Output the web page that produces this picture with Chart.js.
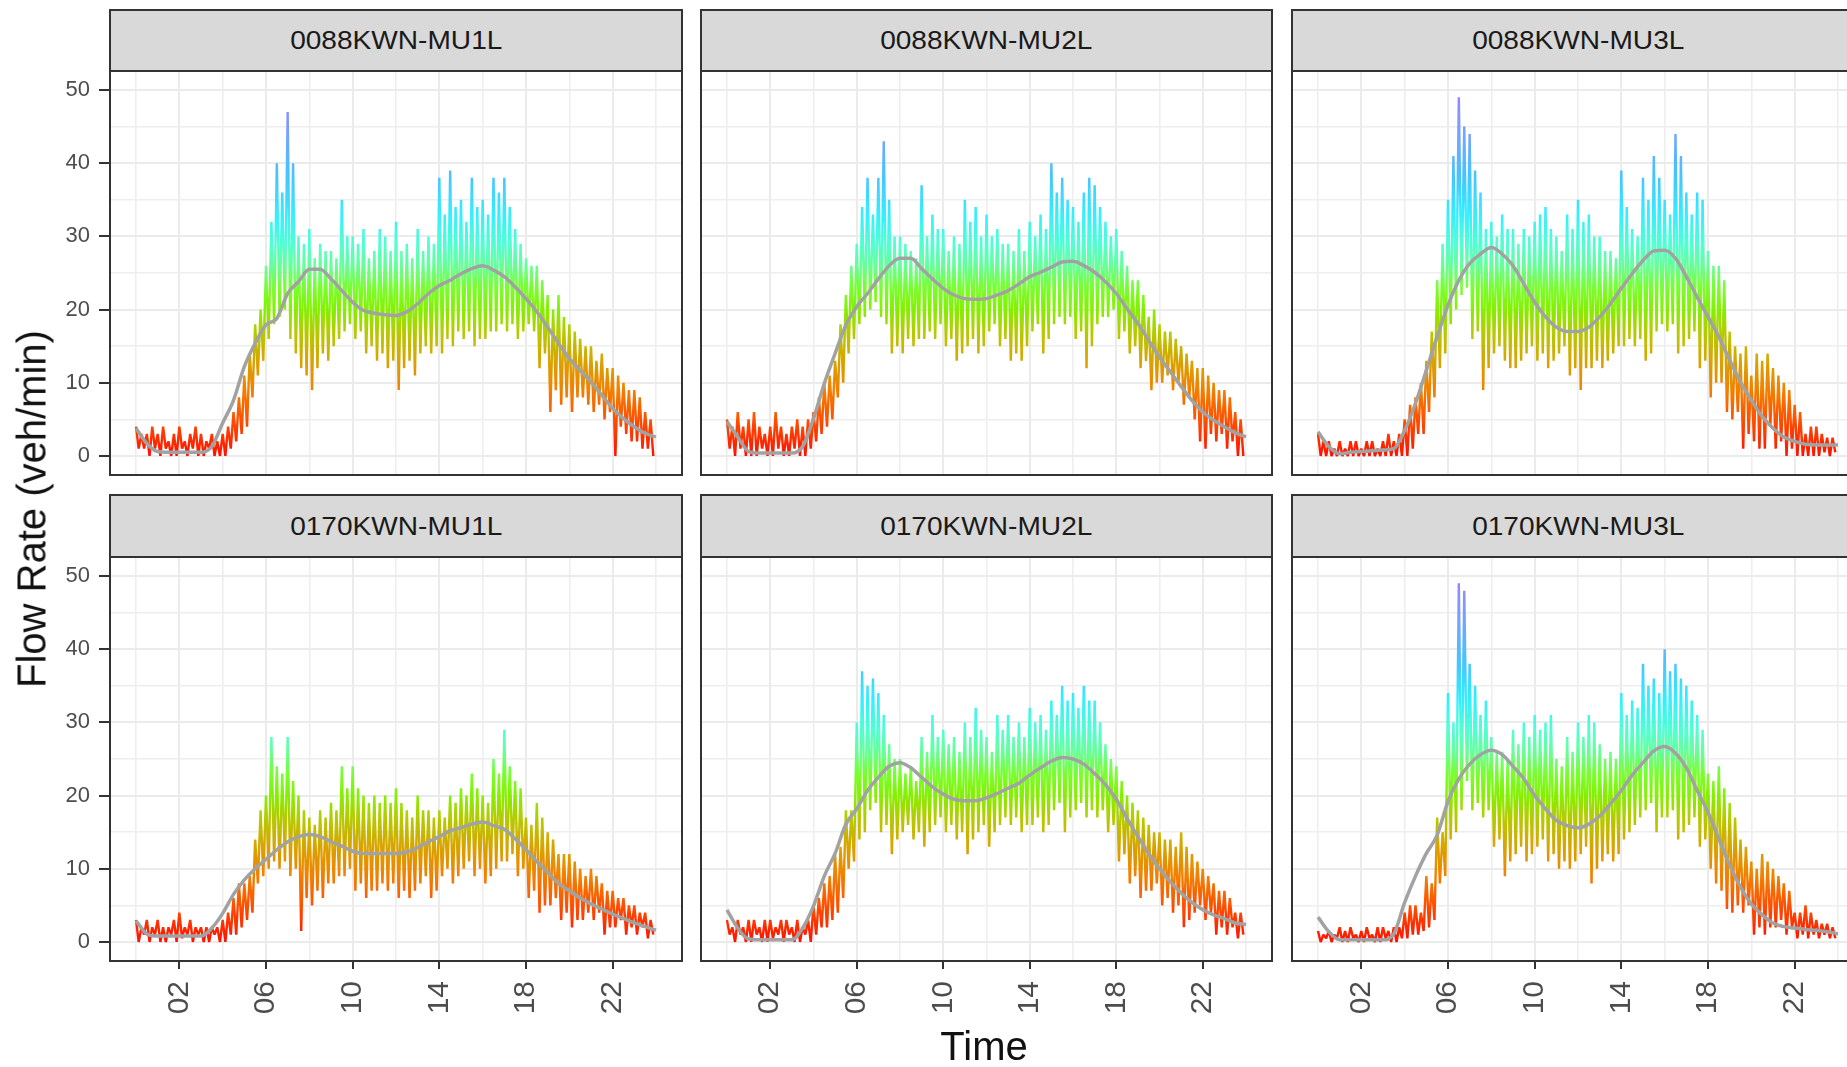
<!DOCTYPE html>
<html>
<head>
<meta charset="utf-8">
<script src="https://cdn.jsdelivr.net/npm/chart.js@4/dist/chart.umd.min.js"></script>
<style>
html,body{margin:0;padding:0;background:#ffffff;overflow:hidden;width:1847px;height:1067px;}
#wrap{position:relative;width:1900px;height:1067px;}
#wrap canvas{position:absolute;}
.strip{position:absolute;box-sizing:border-box;background:#d9d9d9;border:2px solid #333333;display:flex;align-items:center;justify-content:center;overflow:hidden;}
.strip span{font-family:"Liberation Sans",Arial,Helvetica,sans-serif;font-size:26px;color:#1a1a1a;display:inline-block;transform:scaleX(1.08);white-space:nowrap;}
.title{position:absolute;font-family:"Liberation Sans",Arial,Helvetica,sans-serif;font-size:40px;color:#111111;white-space:nowrap;transform:translate(-50%,-50%);}
.ytitle{transform:translate(-50%,-50%) rotate(-90deg);}
</style>
</head>
<body>
<div id="wrap"></div>
<script>
// ---------- data ----------
const panelNames = ['0088KWN-MU1L','0088KWN-MU2L','0088KWN-MU3L','0170KWN-MU1L','0170KWN-MU2L','0170KWN-MU3L'];

const xTickValues = [2, 6, 10, 14, 18, 22];
const xTickLabels = ['02', '06', '10', '14', '18', '22'];
const xMinorValues = [0, 4, 8, 12, 16, 20, 24];
const yTickValues = [0, 10, 20, 30, 40, 50];
const yTickLabels = ['0', '10', '20', '30', '40', '50'];
const yMinorValues = [5, 15, 25, 35, 45];

// 15-minute bins (96 per day): upper and lower envelope of the per-minute flow
const hi_0088_MU1L = [4,3,3,4, 3,4,2,3, 4,2,3,4, 3,2,3,2, 3,4,6,8, 11,14,18,20, 26,32,40,36, 47,40,30,29, 31,27,29,28, 28,27,35,30, 30,29,31,27, 28,31,30,28, 32,28,29,27, 31,28,30,29, 38,33,39,34, 35,32,38,34, 35,33,38,36, 38,34,31,29, 27,26,26,24, 22,20,22,19, 18,17,16,15, 15,13,14,12, 12,11,10,9, 9,8,6,5];
const lo_0088_MU1L = [1,1,0,1, 0,1,0,0, 1,0,1,0, 0,1,0,0, 0,1,2,3, 4,8,11,13, 16,18,19,20, 16,14,12,11, 9,12,14,13, 15,16,17,18, 16,17,14,15, 13,14,12,13, 9,12,13,11, 14,15,14,15, 14,16,15,17, 16,17,15,16, 16,17,17,18, 17,18,16,17, 18,17,12,14, 6,9,7,8, 6,8,8,7, 6,7,5,6, 0,4,3,2, 2,1,1,0];

const hi_0088_MU2L = [5,4,6,4, 5,6,4,3, 4,6,4,3, 4,5,4,5, 6,8,10,11, 13,18,22,26, 29,34,38,33, 38,43,35,30, 30,29,28,27, 37,30,33,31, 31,28,30,29, 35,32,34,30, 33,30,31,29, 29,28,31,28, 32,30,33,31, 40,36,38,35, 34,32,36,38, 37,34,32,30, 31,28,26,24, 24,22,19,20, 18,17,17,16, 15,14,13,12, 12,11,10,9, 9,8,6,5];
const lo_0088_MU2L = [1,0,1,0, 0,0,1,0, 0,1,0,0, 1,0,0,1, 2,3,4,5, 8,10,14,16, 18,19,20,21, 19,18,14,15, 14,16,15,16, 16,17,16,18, 15,16,13,14, 15,16,14,15, 17,18,15,16, 13,14,13,15, 17,18,14,16, 18,19,18,19, 16,17,12,15, 18,19,19,20, 16,17,14,15, 12,13,9,10, 10,11,9,10, 7,8,5,2, 1,3,2,3, 1,2,0,0];

const hi_0088_MU3L = [3,2,2,1, 2,1,2,2, 1,2,2,1, 2,3,2,3, 5,7,8,10, 13,17,24,29, 35,41,49,45, 44,39,36,31, 32,30,33,31, 31,29,31,30, 32,33,34,31, 30,28,33,31, 35,32,33,30, 30,28,28,27, 39,34,31,30, 38,35,41,38, 35,33,44,41, 36,33,36,35, 28,26,26,24, 17,15,14,15, 11,14,13,14, 12,11,10,9, 7,6,3,4, 4,3,2.5,2.5];
const lo_0088_MU3L = [0,0,0,0, 0,0,0,0, 0,0,0,0, 0,0,0,0, 0,1,3,3, 6,8,12,14, 18,20,22,23, 16,17,9,12, 14,15,13,12, 12,13,14,15, 13,14,12,13, 14,15,11,12, 9,12,12,13, 12,13,14,15, 15,16,15,16, 13,14,17,18, 17,18,14,15, 16,17,12,13, 8,10,10,6, 5,6,1,3, 2,1,1,4, 1,2,0,1, 0,0,0,0, 0,0.5,0,0.5];

const hi_0170_MU1L = [3,2,3,2, 3,2,2,3, 4,2,3,2, 2,2,2,2, 3,4,6,8, 8,9,14,18, 20,28,24,23, 28,22,20,18, 17,16,18,17, 19,18,24,21, 24,21,20,19, 20,19,20,19, 21,19,18,17, 20,18,18,17, 18,17,20,19, 21,20,23,21, 20,19,25,23, 29,24,22,21, 17,16,19,17, 15,14,12,12, 12,11,10,9, 10,9,8,7, 7,6,6,5, 5,4,4,3];
const lo_0170_MU1L = [0,1,0,1, 0,0,1,0, 0.5,1,0,1, 0,0,1,0, 0,1,1,2, 3,4,8,9, 10,11,10,11, 9,10,1.5,6, 5,7,6,8, 8,9,9,10, 7,8,6,7, 7,8,7,8, 6,7,6,7, 8,9,6,7, 9,10,8,9, 10,11,9,10, 8,9,10,11, 11,12,9,10, 6,7,4,5, 5,6,3,4, 2,3,3,4, 3,4,1,2, 2,3,1,2, 1,2,0.5,1];

const hi_0170_MU2L = [3,2,3,2, 3,3,2,3, 3,2,3,3, 2,3,2,3, 5,6,8,9, 12,13,18,18, 30,37,35,36, 34,31,27,25, 25,23,24,22, 28,26,31,28, 29,27,28,26, 30,28,32,29, 28,26,31,29, 31,28,30,28, 32,30,31,29, 33,31,35,33, 34,32,35,33, 33,30,27,25, 24,22,20,19, 18,17,16,15, 15,14,14,13, 15,13,12,11, 10,9,8,7, 7,6,4,4];
const lo_0170_MU2L = [1,0,1,0, 0,1,0,0, 0.5,1,0,1, 0,0,1,0, 1,2,2,3, 4,6,10,11, 14,15,18,19, 15,16,12,14, 15,16,14,15, 13,15,16,17, 15,16,14,15, 12,14,15,16, 13,15,16,17, 16,17,15,16, 16,17,15,16, 18,19,15,17, 18,19,17,18, 17,18,15,16, 11,12,8,9, 6,7,7,8, 5,6,4,5, 2,3,4,5, 3,4,1,2, 1,2,0.5,1];

const hi_0170_MU3L = [1.5,1,1.5,1, 2,1.5,2,1, 1.5,2,1,2, 2,1.5,2,2, 4,5,5,4, 9,8,17,15, 34,30,49,48, 38,35,31,33, 28,26,26,25, 29,27,30,28, 31,29,30,31, 25,24,28,26, 30,28,31,30, 27,25,26,25, 34,31,33,32, 38,35,36,34, 40,37,38,36, 35,33,31,29, 23,22,24,21, 19,17,14,13, 11,10,12,11, 10,9,8,7, 4,4,5,4, 3,2.5,2.5,2];
const lo_0170_MU3L = [0,0.5,0,0.5, 0,0,0.5,0, 0,0.5,0,0, 0.5,0,0,0.5, 0.5,1,1,1.5, 2,3,8,9, 14,15,18,22, 18,19,17,18, 13,14,9,11, 12,13,11,12, 13,14,11,12, 10,11,10,11, 12,13,8,10, 11,12,11,12, 14,15,16,17, 18,19,15,17, 17,18,14,15, 16,17,13,14, 10,8,7,4.5, 4,5,4,5, 1,2,1,2, 2,3,1,2, 0.5,1,0.5,1, 0.5,1,0.5,0.5];

// smoothed trend, every 30 minutes from 00:00 to 24:00 (49 values)
const smooth_0088_MU1L = [3.8,1.7,0.6,0.5,0.5,0.5,0.5,1.3,4.5,7.6,12.2,15.4,17.9,18.8,22.2,23.8,25.5,25.5,24.2,22.6,21.0,19.9,19.5,19.3,19.2,19.7,20.8,22.2,23.3,24.0,24.9,25.6,26.0,25.4,24.5,23.1,21.5,19.7,17.6,15.4,13.3,11.7,10.1,8.3,6.5,5.1,4.0,3.1,2.6];
const smooth_0088_MU2L = [4.7,2.6,0.6,0.4,0.4,0.4,0.4,1.3,5.1,9.9,14.0,17.9,20.4,22.2,24.2,26.0,27.0,27.0,25.6,24.2,22.9,22.0,21.5,21.4,21.5,22.0,22.6,23.5,24.5,25.1,25.8,26.5,26.6,26.0,25.1,23.8,22.2,20.1,18.1,15.8,13.5,11.5,9.5,7.6,6.0,4.9,4.0,3.2,2.6];
const smooth_0088_MU3L = [3.3,1.3,0.3,0.5,0.6,0.7,0.8,1.0,3.5,7.2,11.7,16.3,20.6,24.0,26.3,27.6,28.5,27.6,26.0,23.5,21.0,19.0,17.6,17.0,17.0,17.6,19.0,20.8,22.9,24.9,26.7,28.0,28.1,27.0,24.5,21.7,19.0,16.3,13.1,10.1,7.6,5.4,3.8,2.6,2.0,1.6,1.5,1.5,1.5];
const smooth_0170_MU1L = [2.9,1.1,0.8,0.8,0.8,0.8,0.8,1.9,3.9,6.5,8.5,10.0,11.3,12.6,13.7,14.4,14.7,14.4,13.7,13.1,12.4,12.1,12.1,12.1,12.1,12.3,12.9,13.7,14.4,15.2,15.6,16.1,16.4,15.9,15.4,14.1,12.6,11.0,9.5,8.0,7.0,6.0,5.2,4.5,3.8,3.2,2.6,2.1,1.6];
const smooth_0170_MU2L = [4.4,1.9,0.4,0.3,0.3,0.3,0.3,1.9,4.9,9.0,12.1,16.1,18.2,20.7,22.5,24.0,24.5,23.8,22.5,21.2,20.2,19.5,19.3,19.3,19.7,20.3,21.0,21.7,22.8,23.8,24.7,25.2,25.0,24.3,23.0,21.5,19.5,16.9,14.4,12.1,10.0,8.2,6.7,5.4,4.4,3.7,3.2,2.6,2.4];
const smooth_0170_MU3L = [3.4,1.4,0.3,0.3,0.3,0.3,0.3,1.1,5.4,9.0,12.1,14.6,19.2,22.3,24.3,25.6,26.2,25.6,24.0,22.3,20.0,18.2,16.6,15.9,15.6,16.1,17.2,18.9,20.7,22.8,24.5,26.1,26.7,25.8,23.8,20.7,17.7,14.1,10.5,7.5,5.2,3.7,2.6,2.1,1.9,1.7,1.6,1.4,1.1];

const panelHi = [hi_0088_MU1L, hi_0088_MU2L, hi_0088_MU3L, hi_0170_MU1L, hi_0170_MU2L, hi_0170_MU3L];
const panelLo = [lo_0088_MU1L, lo_0088_MU2L, lo_0088_MU3L, lo_0170_MU1L, lo_0170_MU2L, lo_0170_MU3L];
const panelSmooth = [smooth_0088_MU1L, smooth_0088_MU2L, smooth_0088_MU3L, smooth_0170_MU1L, smooth_0170_MU2L, smooth_0170_MU3L];

// time of each 15-minute bin and of each 30-minute trend value (hours)
const binHours = panelHi[0].map((_, k) => k / 4);
const smoothHours = panelSmooth[0].map((_, k) => k / 2);

// ---------- style ----------
const FONT = '"Liberation Sans", Arial, Helvetica, sans-serif';
const X_MIN = -1.2, X_MAX = 25.2, Y_MIN = -2.6, Y_MAX = 52.6;
const COLS = [{l:110, r:682}, {l:701, r:1272}, {l:1292, r:1864}];
const ROWS = [{strip:9, t:71, b:475}, {strip:494, t:557, b:961}];
const colorStops = [
  [0,'#ff1000'],[5,'#ff5000'],[9,'#f28000'],[13,'#d8a400'],[17,'#b4cc00'],
  [20,'#84f000'],[23,'#78ff30'],[26,'#66ff99'],[29,'#50ffd2'],[33,'#34efff'],
  [38,'#44c6ff'],[44,'#74a2ff'],[50,'#9a80ff']
];

function flowGradient(ctx) {
  const ch = ctx.chart;
  const ys = ch.scales.y;
  if (!ch.chartArea || !ys) return '#ff0000';
  const g = ch.ctx.createLinearGradient(0, ys.getPixelForValue(0), 0, ys.getPixelForValue(50));
  colorStops.forEach(s => g.addColorStop(s[0] / 50, s[1]));
  return g;
}

function fixSize(size) {
  return (s) => {
    s.paddingLeft = 0; s.paddingRight = 0; s.paddingTop = 0; s.paddingBottom = 0;
    if (s.isHorizontal()) s.height = size; else s.width = size;
  };
}
const setTicks = (vals) => (axis) => { axis.ticks = vals.map(v => ({value: v})); };

const framePlugin = {
  id: 'frame',
  afterDraw(ch) {
    const a = ch.chartArea, c = ch.ctx;
    c.save();
    c.strokeStyle = '#333333';
    c.lineWidth = 2;
    c.strokeRect(a.left, a.top, a.right - a.left, a.bottom - a.top);
    c.restore();
  }
};

const wrap = document.getElementById('wrap');

panelNames.forEach((name, i) => {
  const r = Math.floor(i / 3), c = i % 3;
  const col = COLS[c], row = ROWS[r];

  // strip
  const st = document.createElement('div');
  st.className = 'strip';
  st.style.left = (col.l - 1) + 'px';
  st.style.top = row.strip + 'px';
  st.style.width = (col.r - col.l + 2) + 'px';
  st.style.height = (row.t - row.strip + 1) + 'px';
  const sp = document.createElement('span');
  sp.textContent = name;
  st.appendChild(sp);
  wrap.appendChild(st);

  // canvas
  const yW = c === 0 ? 110 : 2;
  const xH = r === 1 ? 75 : 2;
  const cv = document.createElement('canvas');
  const cl = col.l - yW, ct = row.t - 2;
  const w = col.r + 2 - cl, h = 2 + (row.b - row.t) + xH;
  cv.width = w; cv.height = h;
  cv.style.left = cl + 'px'; cv.style.top = ct + 'px';
  cv.style.width = w + 'px'; cv.style.height = h + 'px';
  wrap.appendChild(cv);

  const hi = panelHi[i], lo = panelLo[i], sm = panelSmooth[i];
  const noise = [];
  binHours.forEach((t, k) => {
    noise.push({x: t, y: hi[k]});
    noise.push({x: t + 0.125, y: lo[k]});
  });
  const trend = smoothHours.map((t, k) => ({x: t, y: sm[k]}));

  new Chart(cv, {
    type: 'line',
    data: {
      datasets: [
        {data: noise, borderColor: flowGradient, borderWidth: 2.4, borderJoinStyle: 'bevel',
         pointRadius: 0, tension: 0, order: 1},
        {data: trend, borderColor: '#a2a2a2', borderWidth: 3.5, pointRadius: 0, tension: 0.4,
         cubicInterpolationMode: 'monotone', order: 0}
      ]
    },
    options: {
      responsive: false, animation: false, events: [],
      layout: {padding: {top: 2, right: 2, left: 0, bottom: 0}},
      plugins: {legend: {display: false}, tooltip: {enabled: false}},
      scales: {
        x: {
          type: 'linear', position: 'bottom', min: X_MIN, max: X_MAX,
          afterBuildTicks: setTicks(xTickValues), afterFit: fixSize(xH),
          border: {display: false},
          grid: {color: '#ebebeb', lineWidth: 2, drawTicks: r === 1, tickLength: 8, tickColor: '#333333', tickWidth: 2},
          ticks: {display: r === 1, autoSkip: false, minRotation: 90, maxRotation: 90, padding: 12,
                  color: '#4d4d4d', font: {family: FONT, size: 30},
                  callback: (v) => { const k = xTickValues.indexOf(v); return k >= 0 ? xTickLabels[k] : ''; }}
        },
        x2: {
          type: 'linear', position: 'bottom', min: X_MIN, max: X_MAX,
          afterBuildTicks: setTicks(xMinorValues), afterFit: fixSize(0),
          border: {display: false},
          grid: {color: '#eeeeee', lineWidth: 1.6, drawTicks: false},
          ticks: {display: false}
        },
        y: {
          type: 'linear', position: 'left', min: Y_MIN, max: Y_MAX,
          afterBuildTicks: setTicks(yTickValues), afterFit: fixSize(yW),
          border: {display: false},
          grid: {color: '#ebebeb', lineWidth: 2, drawTicks: c === 0, tickLength: 11, tickColor: '#333333', tickWidth: 2},
          ticks: {display: c === 0, padding: 9, color: '#4d4d4d', font: {family: FONT, size: 22},
                  callback: (v) => { const k = yTickValues.indexOf(v); return k >= 0 ? yTickLabels[k] : ''; }}
        },
        y2: {
          type: 'linear', position: 'left', min: Y_MIN, max: Y_MAX,
          afterBuildTicks: setTicks(yMinorValues), afterFit: fixSize(0),
          border: {display: false},
          grid: {color: '#eeeeee', lineWidth: 1.6, drawTicks: false},
          ticks: {display: false}
        }
      }
    },
    plugins: [framePlugin]
  });
});

// axis titles
const yt = document.createElement('div');
yt.className = 'title ytitle';
yt.textContent = 'Flow Rate (veh/min)';
yt.style.left = '32px'; yt.style.top = '509px';
wrap.appendChild(yt);
const xt = document.createElement('div');
xt.className = 'title';
xt.textContent = 'Time';
xt.style.left = '984px'; xt.style.top = '1046px';
wrap.appendChild(xt);
</script>
</body>
</html>
